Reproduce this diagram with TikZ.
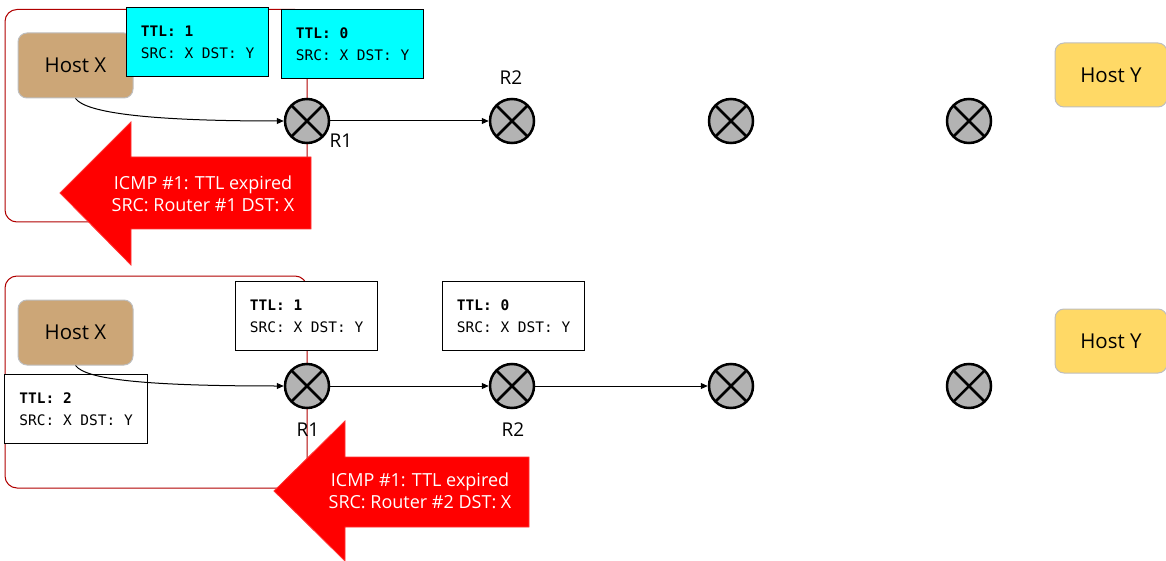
\documentclass[tikz,border=0pt]{standalone}
\usepackage{fontspec}
\setmainfont{Open Sans}
\newfontfamily\pktfont{DejaVu Sans Mono}
\usetikzlibrary{arrows.meta}
\definecolor{hostx}{RGB}{204,166,119}
\definecolor{hosty}{RGB}{255,217,102}
\definecolor{hostborder}{RGB}{190,190,190}
\definecolor{routerfill}{RGB}{179,179,179}
\definecolor{framered}{RGB}{176,0,0}
\definecolor{pktcyan}{RGB}{0,255,255}
\definecolor{icmpred}{RGB}{255,0,0}
\tikzset{
  host/.style={draw=hostborder, line width=1pt, rounded corners=9pt, inner sep=0pt,
    font=\fontsize{20.5}{24}\selectfont},
  pkt/.style={draw=black, line width=1.2pt, minimum width=142pt, minimum height=69pt,
    inner sep=0pt, align=left, anchor=north west,
    font=\pktfont\fontsize{14.5}{22}\selectfont},
  router/.style={circle, draw=black, line width=2.5pt, fill=routerfill, minimum size=44pt, inner sep=0pt,
    path picture={\draw[line width=2.5pt] (path picture bounding box.north west) -- (path picture bounding box.south east)
      (path picture bounding box.north east) -- (path picture bounding box.south west);}},
  rlabel/.style={font=\fontsize{19}{22}\selectfont, inner sep=0pt},
  conn/.style={line width=1pt, -{Triangle[length=7pt,width=6pt]}},
  frame/.style={draw=framered, line width=1pt, rounded corners=12pt},
  icmp/.style={fill=icmpred, draw=icmpred!80!white, line width=0.8pt},
  icmptext/.style={text=white, align=center, inner sep=0pt, font=\fontsize{18}{22}\selectfont}
}
\begin{document}
\begin{tikzpicture}[x=1pt,y=-1pt]
\useasboundingbox (0,0) rectangle (1166,561);

% ---------- top panel ----------
\draw[frame] (5,9.5) rectangle (307,222);
\node[host, fill=hostx, minimum width=115pt, minimum height=65pt] (hx1) at (75.5,65.5) {Host X};
\node[host, fill=hosty, minimum width=112pt, minimum height=64pt] (hy1) at (1111,75) {Host Y};
\node[pkt, fill=pktcyan] (p11) at (126,7) {\textbf{TTL: 1}\\SRC: X DST: Y};
\node[pkt, fill=pktcyan] (p12) at (281,9) {\textbf{TTL: 0}\\SRC: X DST: Y};
\node[router] (r11) at (307,121) {};
\node[router] (r12) at (512,121) {};
\node[router] (r13) at (731,121) {};
\node[router] (r14) at (969,121) {};
\node[rlabel] (l11) at (341,141) {R1};
\node[rlabel] (l12) at (511,78) {R2};
\draw[conn] (hx1.south) .. controls (86,113) and (150,121) .. (r11.west);
\draw[conn] (r11.east) -- (r12.west);
\path[icmp] (60,193) -- (131,122) -- (131,157) -- (311,157) -- (311,229) -- (131,229) -- (131,265) -- cycle;
\node[icmptext] (i1) at (203,194) {ICMP \#1: TTL expired\\SRC: Router \#1 DST: X};

% ---------- bottom panel ----------
\draw[frame] (5,276) rectangle (307,488);
\node[host, fill=hostx, minimum width=115pt, minimum height=65pt] (hx2) at (75.5,332.5) {Host X};
\node[host, fill=hosty, minimum width=112pt, minimum height=64pt] (hy2) at (1111,341) {Host Y};
\node[pkt, fill=white, minimum width=143pt] (p20) at (4,374) {\textbf{TTL: 2}\\SRC: X DST: Y};
\node[pkt, fill=white] (p21) at (235,281) {\textbf{TTL: 1}\\SRC: X DST: Y};
\node[pkt, fill=white] (p22) at (442,281) {\textbf{TTL: 0}\\SRC: X DST: Y};
\node[router] (r21) at (307,386) {};
\node[router] (r22) at (512,386) {};
\node[router] (r23) at (731,386) {};
\node[router] (r24) at (969,386) {};
\node[rlabel] (l21) at (308,430) {R1};
\node[rlabel] (l22) at (513,430) {R2};
\draw[conn] (hx2.south) .. controls (86,380) and (150,386) .. (r21.west);
\draw[conn] (r21.east) -- (r22.west);
\draw[conn] (r22.east) -- (r23.west);
\path[icmp] (274,491) -- (345,421) -- (345,457) -- (529,457) -- (529,527) -- (345,527) -- (345,561) -- cycle;
\node[icmptext] (i2) at (420,491) {ICMP \#1: TTL expired\\SRC: Router \#2 DST: X};
\end{tikzpicture}
\end{document}
